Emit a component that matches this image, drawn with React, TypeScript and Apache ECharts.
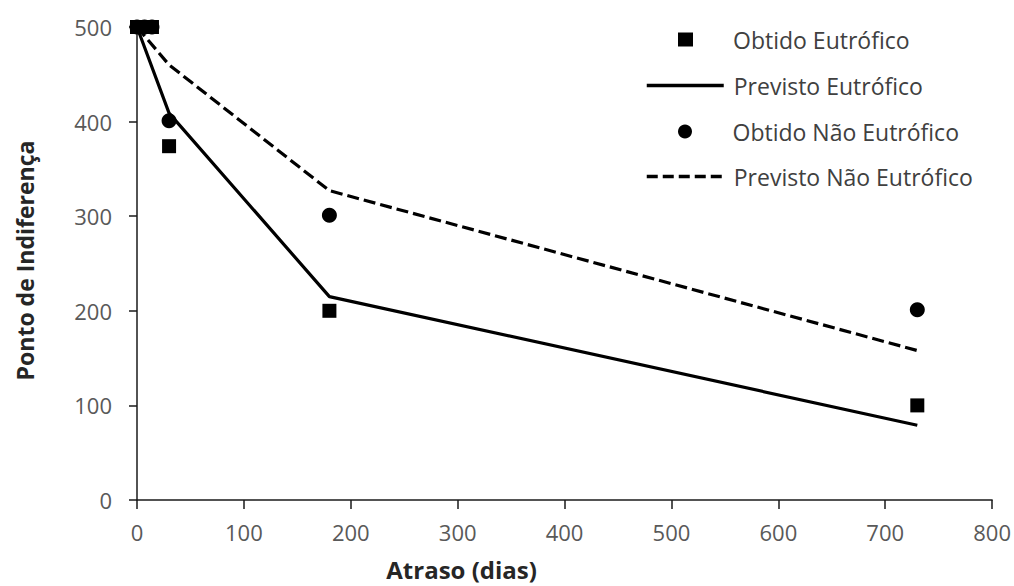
import React, { useEffect, useRef } from "react";
import * as echarts from "echarts";

const obtidoDias = [0, 7, 14, 30, 180, 730];
const obtidoEutrofico = [500, 500, 500, 374, 200, 100];
const obtidoNaoEutrofico = [500, 500, 500, 401, 301, 201];
const previstoDias = [0, 30, 180, 730];
const previstoEutrofico = [500, 409, 215, 79];
const previstoNaoEutrofico = [500, 460, 327, 158];

const seriesNames = [
  "Obtido Eutrófico",
  "Previsto Eutrófico",
  "Obtido Não Eutrófico",
  "Previsto Não Eutrófico",
];

const FONT = "'Open Sans', sans-serif";

export default function App() {
  const ref = useRef<HTMLDivElement>(null);
  useEffect(() => {
    if (!ref.current) return;
    const chart = echarts.init(ref.current, undefined, { renderer: "svg" });
    const pair = (xs: number[], ys: number[]) => xs.map((x, i) => [x, ys[i]]);
    const legendText = { fontFamily: FONT, fontSize: 23, color: "#404040" };
    const markerLegend = (name: string, icon: string, top: number) => ({
      orient: "vertical",
      left: 678,
      top,
      padding: 0,
      itemWidth: 15,
      itemHeight: 14,
      selectedMode: false,
      textStyle: { ...legendText, padding: [0, 0, 0, 35] },
      data: [{ name, icon }],
    });
    const lineLegend = (name: string, top: number, dash: any) => ({
      orient: "vertical",
      left: 645,
      top,
      padding: 0,
      itemWidth: 77,
      itemHeight: 14,
      selectedMode: false,
      textStyle: { ...legendText, padding: [0, 0, 0, 5] },
      lineStyle: { color: "#000", width: 3.5, type: dash },
      itemStyle: { opacity: 0 },
      data: [{ name }],
    });
    chart.setOption({
      animation: false,
      backgroundColor: "#ffffff",
      grid: { left: 137, right: 20, top: 27, bottom: 86, containLabel: false },
      legend: [
        markerLegend(seriesNames[0], "rect", 28),
        lineLegend(seriesNames[1], 74, "solid"),
        markerLegend(seriesNames[2], "circle", 120),
        lineLegend(seriesNames[3], 165, [11, 5]),
      ],
      xAxis: {
        type: "value",
        min: 0,
        max: 800,
        interval: 100,
        name: "Atraso (dias)",
        nameLocation: "middle",
        nameGap: 57,
        nameTextStyle: {
          fontFamily: FONT,
          fontSize: 24,
          fontWeight: "bold",
          color: "#262626",
          padding: [0, 206, 0, 0],
        },
        axisLine: { lineStyle: { color: "#1a1a1a", width: 1.5 } },
        axisTick: { show: true, length: 9, lineStyle: { color: "#1a1a1a", width: 1.5 } },
        axisLabel: { fontFamily: FONT, fontSize: 22, color: "#595959", margin: 21 },
        splitLine: { show: false },
      },
      yAxis: {
        type: "value",
        min: 0,
        max: 500,
        interval: 100,
        name: "Ponto de Indiferença",
        nameLocation: "middle",
        nameGap: 101,
        nameTextStyle: {
          fontFamily: FONT,
          fontSize: 23,
          fontWeight: "bold",
          color: "#262626",
          padding: [0, 0, 0, 6],
        },
        axisLine: { show: true, lineStyle: { color: "#1a1a1a", width: 1.5 } },
        axisTick: { show: true, length: 8, lineStyle: { color: "#1a1a1a", width: 1.5 } },
        axisLabel: { fontFamily: FONT, fontSize: 22, color: "#595959", margin: 25 },
        splitLine: { show: false },
      },
      series: [
        {
          name: seriesNames[0],
          type: "scatter",
          symbol: "rect",
          symbolSize: 14,
          itemStyle: { color: "#000", opacity: 1 },
          data: pair(obtidoDias, obtidoEutrofico),
          z: 5,
        },
        {
          name: seriesNames[1],
          type: "line",
          symbol: "none",
          lineStyle: { color: "#000", width: 3.2 },
          itemStyle: { color: "#000" },
          data: pair(previstoDias, previstoEutrofico),
        },
        {
          name: seriesNames[2],
          type: "scatter",
          symbol: "circle",
          symbolSize: 15,
          itemStyle: { color: "#000", opacity: 1 },
          data: pair(obtidoDias, obtidoNaoEutrofico),
          z: 5,
        },
        {
          name: seriesNames[3],
          type: "line",
          symbol: "none",
          lineStyle: { color: "#000", width: 3.2, type: [12, 5] },
          itemStyle: { color: "#000" },
          data: pair(previstoDias, previstoNaoEutrofico),
        },
      ],
    });
    return () => chart.dispose();
  }, []);
  return <div ref={ref} style={{ width: 1014, height: 586, position: "absolute", left: 0, top: 0 }} />;
}
